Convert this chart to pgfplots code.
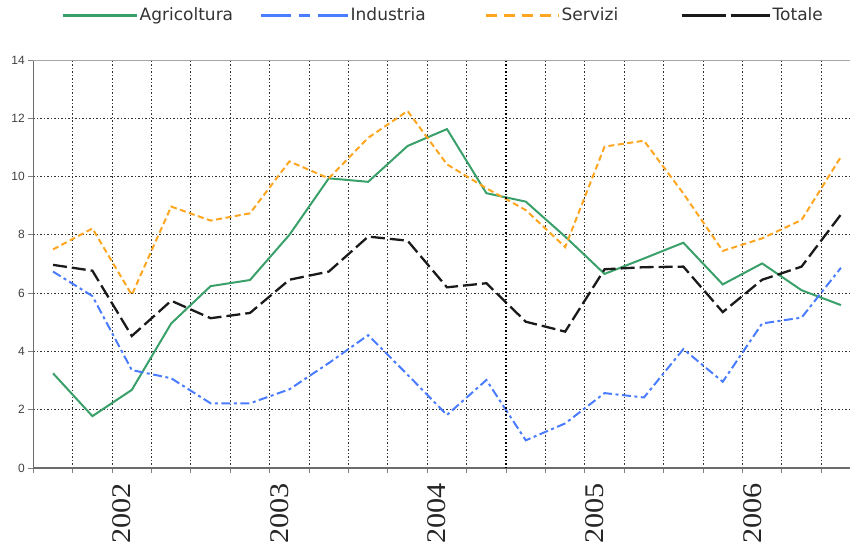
\documentclass[border=0pt]{standalone}
\usepackage{fontspec}
\setmainfont{Liberation Sans}
\newfontfamily\yearfont{Liberation Serif}
\newfontfamily\legfont{DejaVu Sans}
\usepackage{graphicx}
\usepackage{pgfplots}
\pgfplotsset{compat=1.18}
\usepackage{pgfplotstable}
\definecolor{agr}{HTML}{3AA06A}
\definecolor{ind}{HTML}{4A7CFF}
\definecolor{ser}{HTML}{FFA620}
\definecolor{tot}{HTML}{1A1A1A}
\newcommand{\yr}[1]{\scalebox{1.12}[1]{\yearfont\fontsize{27}{27}\selectfont #1}}
\pgfplotstableread{
i agr ind ser tot
0 3.25 6.74 7.50 6.97
1 1.78 5.90 8.22 6.77
2 2.68 3.36 5.94 4.53
3 4.96 3.08 8.97 5.74
4 6.24 2.22 8.49 5.14
5 6.45 2.22 8.74 5.32
6 8.00 2.70 10.52 6.46
7 9.94 3.60 9.94 6.74
8 9.82 4.56 11.33 7.94
9 11.05 3.20 12.25 7.80
10 11.63 1.82 10.42 6.20
11 9.43 3.02 9.60 6.34
12 9.14 0.95 8.85 5.02
13 7.94 1.53 7.58 4.68
14 6.66 2.57 11.03 6.82
15 7.19 2.42 11.23 6.89
16 7.73 4.08 9.42 6.91
17 6.30 2.96 7.45 5.35
18 7.02 4.96 7.88 6.46
19 6.10 5.16 8.51 6.91
20 5.59 6.87 10.68 8.70
}\data
\pgfplotsset{legimg/.style 2 args={legend image code/.code={\draw[##1,line width=3pt,#2] (0pt,0pt) -- (#1,0pt);}}}
\tikzset{yrlab/.style={rotate=90, anchor=east, inner sep=0pt, text=black!85}}
\begin{document}
\begin{tikzpicture}
\begin{axis}[
 scale only axis, width=816.7pt, height=408pt,
 xmin=-0.5, xmax=20.23, ymin=0, ymax=14,
 clip=false,
 axis x line*=bottom, axis y line*=left,
 axis line style={-, draw=gray!85!black, line width=1.5pt},
 xtick={-0.5,0.5,...,19.5},
 xticklabels={},
 ytick={0,2,...,14},
 grid=major,
 major grid style={draw=black!80, line width=0.9pt, dash pattern=on 1.2pt off 2.3pt},
 tick align=outside, major tick length=5pt,
 tick style={draw=gray, line width=1pt},
 yticklabel style={font=\fontsize{12}{12}\selectfont, text=black!75},
 /pgf/number format/assume math mode=true,
 legend columns=4,
 legend style={at={(0.0339,1.110)}, anchor=west, draw=none, fill=none, inner sep=0pt, column sep=0pt, font=\legfont\fontsize{17}{17}\selectfont, text=black!80, nodes={inner sep=1.5pt}, cells={anchor=west}},
]
\addplot[agr, line width=2pt, legimg={74pt}{}] table[x=i, y=agr] {\data};
\addlegendentry{\makebox[118pt][l]{Agricoltura}}
\addplot[ind, line width=2pt, dash pattern=on 9pt off 3.5pt on 3pt off 3.5pt, legimg={87pt}{dash pattern=on 30pt off 8pt on 11pt off 8pt}] table[x=i, y=ind] {\data};
\addlegendentry{\makebox[132pt][l]{Industria}}
\addplot[ser, line width=2pt, dash pattern=on 6pt off 3.5pt, legimg={73pt}{dash pattern=on 11pt off 7pt}] table[x=i, y=ser] {\data};
\addlegendentry{\makebox[117pt][l]{Servizi}}
\addplot[tot, line width=2.3pt, dash pattern=on 14pt off 5pt, legimg={88pt}{dash pattern=on 44pt off 5pt}] table[x=i, y=tot] {\data};
\addlegendentry{Totale}
\draw[black, line width=1.2pt, dash pattern=on 1.2pt off 2.3pt] (axis cs:11.5,0) -- (axis cs:11.5,14);
\draw[gray!70, line width=1pt] (axis cs:-0.5,14) -- (axis cs:20.23,14);
\node[yrlab] at ([yshift=-15pt]axis cs:1.75,0) {\yr{2002}};
\node[yrlab] at ([yshift=-15pt]axis cs:5.75,0) {\yr{2003}};
\node[yrlab] at ([yshift=-15pt]axis cs:9.75,0) {\yr{2004}};
\node[yrlab] at ([yshift=-15pt]axis cs:13.75,0) {\yr{2005}};
\node[yrlab] at ([yshift=-15pt]axis cs:17.75,0) {\yr{2006}};
\end{axis}
\pgfresetboundingbox
\path[use as bounding box] ([xshift=-33.3pt,yshift=-79pt]current axis.south west) rectangle ([yshift=60pt]current axis.north east);
\end{tikzpicture}
\end{document}
